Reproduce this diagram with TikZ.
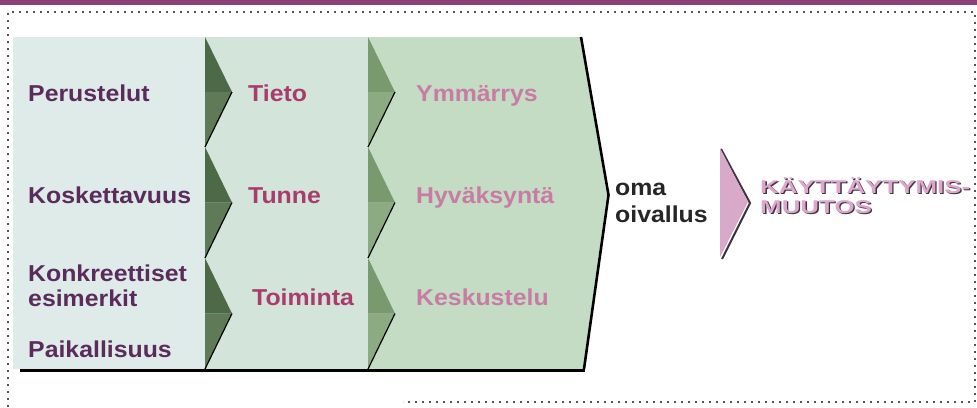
\documentclass[tikz,border=0pt]{standalone}
\usepackage{fontspec}
\setmainfont{Liberation Sans}
\newfontfamily\lblfont[FakeStretch=1.08]{Liberation Sans}
\newfontfamily\widefont[FakeStretch=1.40]{Liberation Sans}
\definecolor{bandc}{HTML}{8B3F76}
\definecolor{dotc}{HTML}{55505C}
\definecolor{colA}{HTML}{DFEBE8}
\definecolor{colB}{HTML}{D3E5DA}
\definecolor{colC}{HTML}{C4DCC4}
\definecolor{chAup}{HTML}{4D6A48}
\definecolor{chAlo}{HTML}{5E7A56}
\definecolor{chBup}{HTML}{789A6E}
\definecolor{chBlo}{HTML}{8CAB82}
\definecolor{txtA}{HTML}{5A2C5C}
\definecolor{txtB}{HTML}{A83C6C}
\definecolor{txtC}{HTML}{C87CA4}
\definecolor{pinkc}{HTML}{D9A9C9}
\definecolor{pinkt}{HTML}{DDA7CC}
\definecolor{shadc}{HTML}{3E3340}
\tikzset{
  lbl/.style={font=\lblfont\bfseries\fontsize{23}{26}\selectfont, inner sep=0pt, anchor=base west},
  widelbl/.style={font=\widefont\bfseries\fontsize{18.5}{20}\selectfont, inner sep=0pt, anchor=base west},
  dotline/.style={dotc, line width=1.8pt, dash pattern=on 1.6pt off 5.4pt},
}
\begin{document}
\begin{tikzpicture}[x=1pt,y=-1pt]
\useasboundingbox (0,0) rectangle (977,407);
\fill[white] (0,0) rectangle (977,407);
% top band
\fill[bandc] (0,0) rectangle (977,4.5);
% dotted frame
\draw[dotline] (8,407) -- (8,12) -- (975,12) -- (975,402) -- (403,402);
% columns
\fill[colA] (13,37) rectangle (205,369);
\fill[colB] (205,37) rectangle (368,369);
\fill[colC] (368,37) -- (580,37) -- (607,195) -- (583,369) -- (368,369) -- cycle;
\draw[line width=2.6pt, line join=round] (581,37) -- (608.5,195) -- (584,369);
\draw[line width=3pt] (20,370) -- (585,370);
% chevrons
\foreach \t/\b in {37/147,147/258,258/369} {
  \pgfmathsetmacro\m{(\t+\b)/2}
  \fill[chAup] (205,\t) -- (232,\m) -- (205,\m) -- cycle;
  \fill[chAlo] (205,\m) -- (232,\m) -- (205,\b) -- cycle;
  \draw[line width=1.2pt] (232,\m) -- (205,\b);
  \fill[chBup] (368,\t) -- (395,\m) -- (368,\m) -- cycle;
  \fill[chBlo] (368,\m) -- (395,\m) -- (368,\b) -- cycle;
  \draw[line width=1.2pt] (395,\m) -- (368,\b);
}
% pink arrow
\draw[shadc, line width=2pt] (721,149) -- (750,203) -- (722,259);
\fill[pinkc] (720,148) -- (748,202) -- (720,257) -- cycle;
% labels column 1
\node[lbl, text=txtA] (perustelut) at (28,101) {Perustelut};
\node[lbl, text=txtA] (koskettavuus) at (28,203) {Koskettavuus};
\node[lbl, text=txtA] (konkreettiset) at (28,281) {Konkreettiset};
\node[lbl, text=txtA] (esimerkit) at (28,306) {esimerkit};
\node[lbl, text=txtA] (paikallisuus) at (28,357) {Paikallisuus};
% column 2
\node[lbl, text=txtB] (tieto) at (248,101) {Tieto};
\node[lbl, text=txtB] (tunne) at (248,203) {Tunne};
\node[lbl, text=txtB] (toiminta) at (252,305) {Toiminta};
% column 3
\node[lbl, text=txtC] (ymmarrys) at (416,101) {Ymmärrys};
\node[lbl, text=txtC] (hyvaksynta) at (416,203) {Hyväksyntä};
\node[lbl, text=txtC] (keskustelu) at (416,305) {Keskustelu};
% oma oivallus
\node[lbl, text=black!85] (oma) at (615,195) {oma};
\node[lbl, text=black!85] (oivallus) at (615,222) {oivallus};
% result
\node[widelbl, text=shadc] (kaytS) at (761.3,194.3) {KÄYTTÄYTYMIS-};
\node[widelbl, text=shadc] (muutS) at (761.3,214.3) {MUUTOS};
\node[widelbl, text=pinkt] (kayt) at (760,193) {KÄYTTÄYTYMIS-};
\node[widelbl, text=pinkt] (muut) at (760,213) {MUUTOS};
\end{tikzpicture}
\end{document}
